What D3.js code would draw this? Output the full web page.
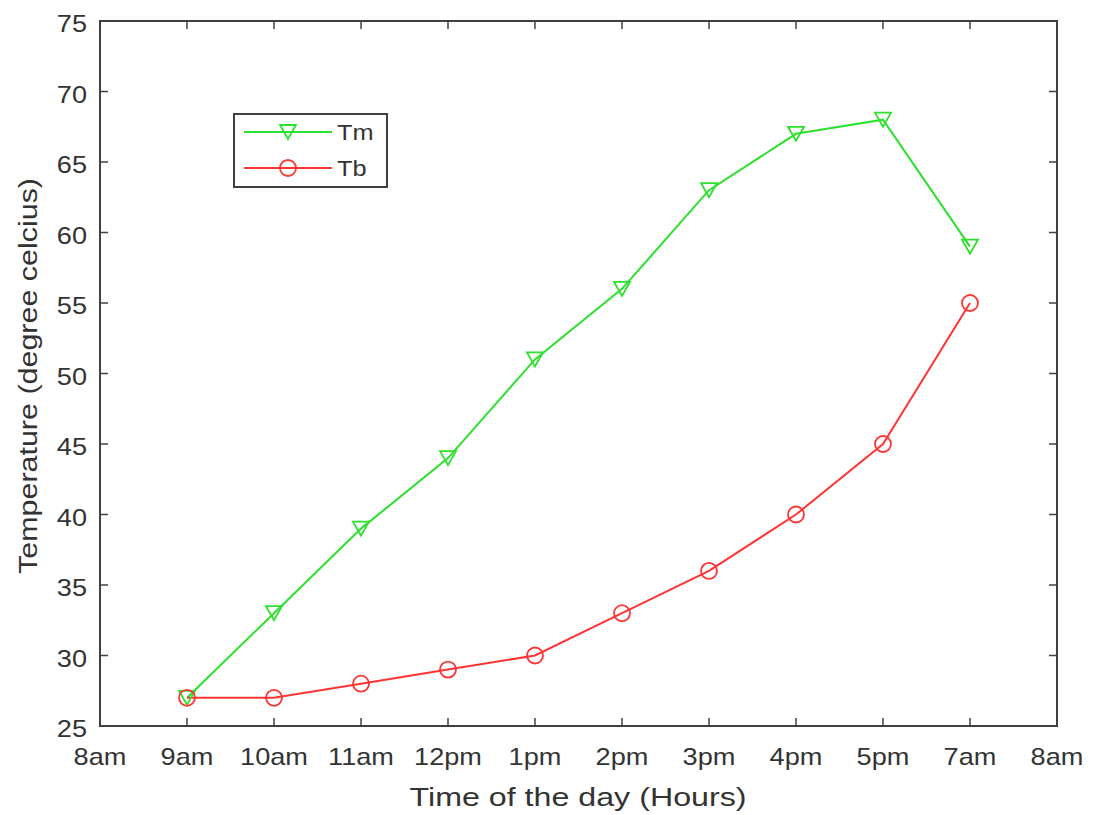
<!DOCTYPE html>
<html>
<head>
<meta charset="utf-8">
<script src="https://cdn.jsdelivr.net/npm/d3@7"></script>
<style>
  html, body { margin: 0; padding: 0; background: #fff; }
  text { font-family: "Liberation Sans", Arial, sans-serif; fill: #333; }
</style>
</head>
<body>
<svg id="chart" width="1098" height="815"></svg>
<script>
const xTickLabels = ["8am","9am","10am","11am","12pm","1pm","2pm","3pm","4pm","5pm","7am","8am"];
const categories = ["9am","10am","11am","12pm","1pm","2pm","3pm","4pm","5pm","7am"];
const tmValues = [27, 33, 39, 44, 51, 56, 63, 67, 68, 59];
const tbValues = [27, 27, 28, 29, 30, 33, 36, 40, 45, 55];
const yTicks = [25, 30, 35, 40, 45, 50, 55, 60, 65, 70, 75];

(function () {
const svg = d3.select("#chart");
const pL = 100, pR = 1057, pT = 21, pB = 726;
const axisColor = "#404040";
const greenC = "#2de02d", redC = "#ff3434";

const x = d3.scaleLinear().domain([0, xTickLabels.length - 1]).range([pL, pR]);
const y = d3.scaleLinear().domain([25, 75]).range([pB, pT]);

// box
svg.append("rect").attr("x", pL).attr("y", pT).attr("width", pR - pL).attr("height", pB - pT)
  .attr("fill", "none").attr("stroke", axisColor).attr("stroke-width", 2);

// ticks (inward, mirrored)
const tl = 8;
xTickLabels.forEach((lab, i) => {
  const xp = x(i);
  svg.append("line").attr("x1", xp).attr("x2", xp).attr("y1", pB).attr("y2", pB - tl).attr("stroke", axisColor).attr("stroke-width", 1.5);
  svg.append("line").attr("x1", xp).attr("x2", xp).attr("y1", pT).attr("y2", pT + tl).attr("stroke", axisColor).attr("stroke-width", 1.5);
  svg.append("text").attr("transform", `translate(${xp},${765}) scale(1.18,1)`)
    .attr("text-anchor", "middle").attr("font-size", 23).text(lab);
});
yTicks.forEach(v => {
  const yp = y(v);
  svg.append("line").attr("x1", pL).attr("x2", pL + tl).attr("y1", yp).attr("y2", yp).attr("stroke", axisColor).attr("stroke-width", 1.5);
  svg.append("line").attr("x1", pR).attr("x2", pR - tl).attr("y1", yp).attr("y2", yp).attr("stroke", axisColor).attr("stroke-width", 1.5);
  svg.append("text").attr("transform", `translate(${87},${yp + 11}) scale(1.18,1)`)
    .attr("text-anchor", "end").attr("font-size", 23).text(v);
});

// axis titles
svg.append("text").attr("x", 578).attr("y", 806).attr("text-anchor", "middle")
  .attr("font-size", 25).attr("textLength", 337).attr("lengthAdjust", "spacingAndGlyphs")
  .text("Time of the day (Hours)");
svg.append("text").attr("transform", "translate(37,376) rotate(-90)").attr("text-anchor", "middle")
  .attr("font-size", 25).attr("textLength", 396).attr("lengthAdjust", "spacingAndGlyphs")
  .text("Temperature (degree celcius)");

const line = d3.line().x((d, i) => x(i + 1)).y(d => y(d));

function triDown(cx, cy) {
  const w = 8, h = 7;
  return `M${cx - w},${cy - h}L${cx + w},${cy - h}L${cx},${cy + h}Z`;
}

svg.append("path").datum(tmValues).attr("d", line).attr("fill", "none").attr("stroke", greenC).attr("stroke-width", 2);
svg.append("path").datum(tbValues).attr("d", line).attr("fill", "none").attr("stroke", redC).attr("stroke-width", 2);

svg.selectAll(".tm").data(tmValues).enter().append("path")
  .attr("d", (d, i) => triDown(x(i + 1), y(d)))
  .attr("fill", "none").attr("stroke", greenC).attr("stroke-width", 1.8);
svg.selectAll(".tb").data(tbValues).enter().append("circle")
  .attr("cx", (d, i) => x(i + 1)).attr("cy", d => y(d)).attr("r", 8)
  .attr("fill", "none").attr("stroke", redC).attr("stroke-width", 1.8);

// legend
const lg = svg.append("g");
lg.append("rect").attr("x", 234).attr("y", 114).attr("width", 153).attr("height", 73)
  .attr("fill", "#fff").attr("stroke", axisColor).attr("stroke-width", 2);
const legendItems = [{ name: "Tm", color: greenC, y: 132 }, { name: "Tb", color: redC, y: 168 }];
legendItems.forEach((it, k) => {
  lg.append("line").attr("x1", 244).attr("x2", 332).attr("y1", it.y).attr("y2", it.y).attr("stroke", it.color).attr("stroke-width", 2);
  if (k === 0) {
    lg.append("path").attr("d", triDown(288, it.y)).attr("fill", "none").attr("stroke", it.color).attr("stroke-width", 1.8);
  } else {
    lg.append("circle").attr("cx", 288).attr("cy", it.y).attr("r", 8).attr("fill", "none").attr("stroke", it.color).attr("stroke-width", 1.8);
  }
  lg.append("text").attr("transform", `translate(337,${it.y + 8}) scale(1.15,1)`).attr("font-size", 22).text(it.name);
});
})();
</script>
</body>
</html>
